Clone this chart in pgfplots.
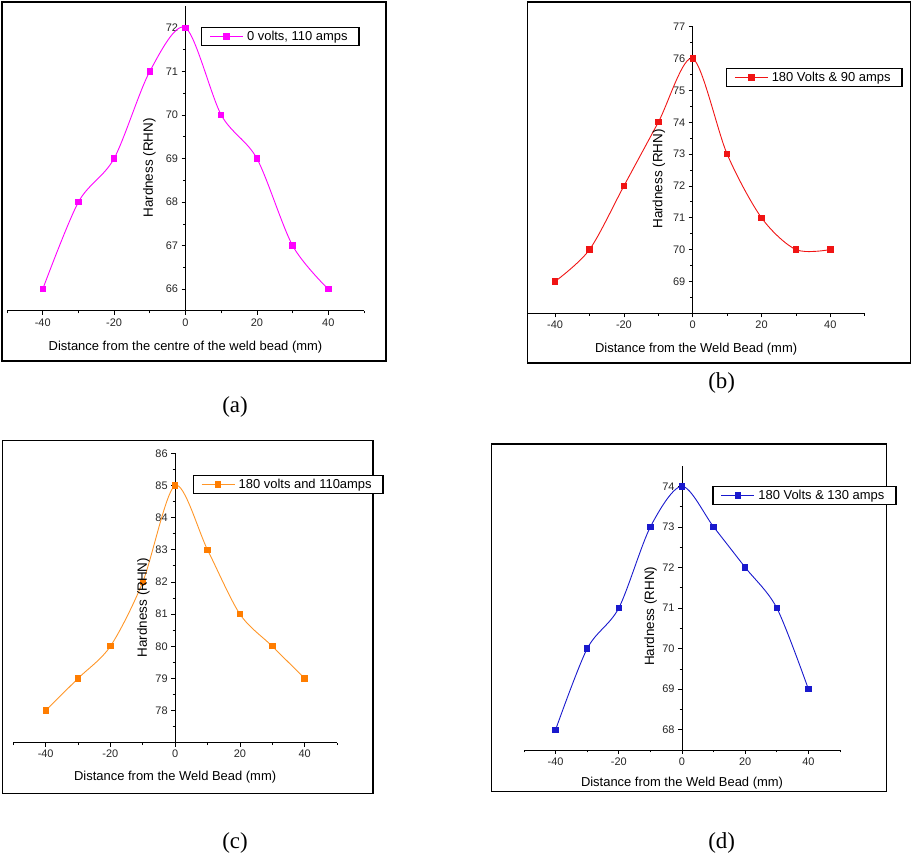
\documentclass[border=0pt]{standalone}
\usepackage{pgfplots}
\pgfplotsset{compat=1.18}
\usepackage{fontspec}
\setmainfont{Liberation Sans}
\newfontfamily\capfont{Liberation Serif}
\definecolor{cA}{RGB}{255,0,255}
\definecolor{cB}{RGB}{240,20,20}
\definecolor{cC}{RGB}{255,150,40}
\definecolor{cCm}{RGB}{255,125,0}
\definecolor{cD}{RGB}{25,25,205}
\pgfplotsset{
  panel/.style={
    scale only axis, clip=false,
    axis x line=bottom, axis y line=middle,
    axis line style={-, line width=1pt},
    tick align=outside,
    major tick length=4bp, minor tick length=2.5bp,
    tick style={black, line width=0.7pt},
    /pgf/number format/assume math mode=true,
    xtick={-40,-20,0,20,40},
    minor xtick={-50,-30,-10,10,30,50},
    ytick distance=1, minor y tick num=1,
    ticklabel style={font=\fontsize{11}{13}\selectfont, text=black!85},
    xlabel style={font=\fontsize{13}{15}\selectfont, at={(axis description cs:0.5,0)}, anchor=center},
    ylabel style={font=\fontsize{13.5}{15}\selectfont, rotate=0, anchor=center},
    legend style={font=\fontsize{13}{15}\selectfont, draw=black, line width=1.3pt, anchor=north west, inner xsep=8bp, inner ysep=1.5bp, row sep=0pt, nodes={inner xsep=3.5bp}},
    legend cell align=left,
    legend image code/.code={\draw[mark repeat=2,mark phase=2,line width=0.9pt,#1] plot coordinates {(0bp,0bp) (16.5bp,0bp) (33bp,0bp)};},
  },
  ser/.style={smooth, line width=0.9pt, mark=square*, mark size=2.7bp, mark options={solid}},
}
\begin{document}
\begin{tikzpicture}
\path[use as bounding box] (0,0) rectangle (913bp,858bp);
% frames
\draw[line width=1.5bp] (2bp,497bp) rectangle (386bp,856bp);
\draw[line width=1.5bp] (527.7bp,495bp) rectangle (910.7bp,856bp);
\draw[line width=1.5bp] (2.7bp,64.7bp) rectangle (373bp,417.3bp);
\draw[line width=1.5bp] (491.7bp,66.3bp) rectangle (886.7bp,414bp);
% captions
\node[font=\capfont\fontsize{23}{25}\selectfont] at (235bp,451bp) {(a)};
\node[font=\capfont\fontsize{23}{25}\selectfont] at (721.7bp,475bp) {(b)};
\node[font=\capfont\fontsize{23}{25}\selectfont] at (235bp,14.7bp) {(c)};
\node[font=\capfont\fontsize{23}{25}\selectfont] at (721.7bp,14.7bp) {(d)};

% (a)
\begin{axis}[panel, at={(7bp,547bp)}, anchor=south west, width=357bp, height=305bp,
  xmin=-50, xmax=50, ymin=65.5, ymax=72.5, ytick={66,...,72},
  xlabel={Distance from the centre of the weld bead (mm)},
  xlabel style={yshift=-35.7bp},
  ylabel={Hardness (RHN)},
  ylabel style={at={(rel axis cs:0.3986,0.469)}, rotate=90},
  legend style={at={(rel axis cs:0.5434,0.932)}}]
\addplot[ser, color=cA] coordinates {(-40,66) (-30,68) (-20,69) (-10,71) (0,72) (10,70) (20,69) (30,67) (40,66)};
\addlegendentry{0 volts, 110 amps}
\end{axis}

% (b)
\begin{axis}[panel, at={(527.6bp,544.7bp)}, anchor=south west, width=337.1bp, height=286.6bp,
  xmin=-48, xmax=50, ymin=68, ymax=77, ytick={68,...,77},
  minor xtick={-30,-10,10,30,50},
  xlabel={Distance from the Weld Bead (mm)},
  xlabel style={yshift=-36bp},
  ylabel={Hardness (RHN)},
  ylabel style={at={(rel axis cs:0.3898,0.4686)}, rotate=90},
  legend style={at={(rel axis cs:0.5877,0.856)}}]
\addplot[ser, color=cB] coordinates {(-40,69) (-30,70) (-20,72) (-10,74) (0,76) (10,73) (20,71) (30,70) (40,70)};
\addlegendentry{180 Volts \& 90 amps}
\end{axis}

% (c)
\begin{axis}[panel, at={(13.3bp,115.3bp)}, anchor=south west, width=323.7bp, height=289.4bp,
  xmin=-50, xmax=50, ymin=77, ymax=86, ytick={77,...,86},
  xlabel={Distance from the Weld Bead (mm)},
  xlabel style={yshift=-34.6bp},
  ylabel={Hardness (RHN)},
  ylabel style={at={(rel axis cs:0.4016,0.467)}, rotate=90},
  legend style={at={(rel axis cs:0.554,0.925)}}]
\addplot[ser, color=cC, mark options={fill=cCm, draw=cCm}] coordinates {(-40,78) (-30,79) (-20,80) (-10,82) (0,85) (10,83) (20,81) (30,80) (40,79)};
\addlegendentry{180 volts and 110amps}
\end{axis}

% (d)
\begin{axis}[panel, at={(524bp,108bp)}, anchor=south west, width=316bp, height=284bp,
  xmin=-50, xmax=50, ymin=67.5, ymax=74.5, ytick={68,...,74},
  xlabel={Distance from the Weld Bead (mm)},
  xlabel style={yshift=-32.7bp},
  ylabel={Hardness (RHN)},
  ylabel style={at={(rel axis cs:0.401,0.4708)}, rotate=90},
  legend style={at={(rel axis cs:0.596,0.9306)}}]
\addplot[ser, color=cD] coordinates {(-40,68) (-30,70) (-20,71) (-10,73) (0,74) (10,73) (20,72) (30,71) (40,69)};
\addlegendentry{180 Volts \& 130 amps}
\end{axis}
\end{tikzpicture}
\end{document}
